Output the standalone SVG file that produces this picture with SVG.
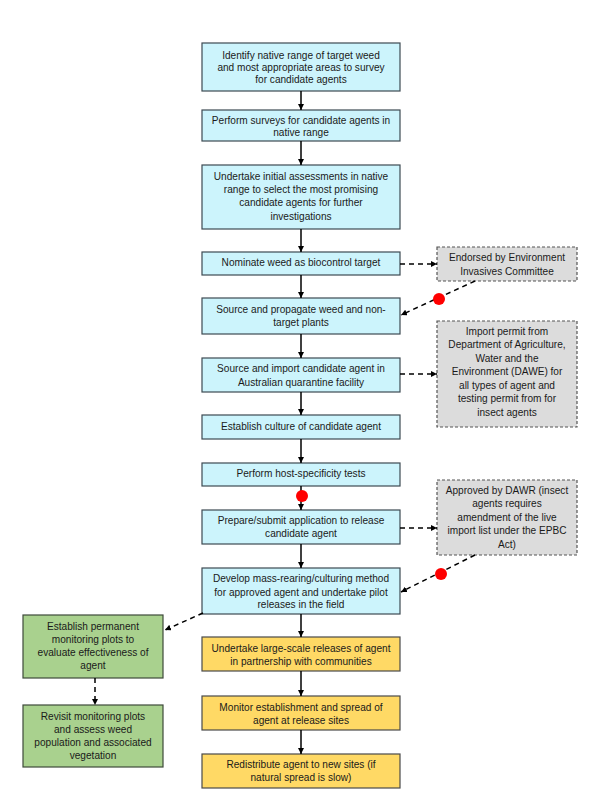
<svg xmlns="http://www.w3.org/2000/svg" width="602" height="802" viewBox="0 0 602 802">
<defs>
<marker id="ah" viewBox="0 0 10 10" refX="10" refY="5" markerWidth="4" markerHeight="4" orient="auto" markerUnits="strokeWidth">
<path d="M0,0 L10,5 L0,10 z" fill="#000"/>
</marker>
</defs>
<style>
.blue{fill:#CCF4FC;stroke:#3d4a52;stroke-width:1.2}
.yel{fill:#FFD965;stroke:#4a4a4a;stroke-width:1.2}
.grn{fill:#A9D18E;stroke:#3e4a3a;stroke-width:1.2}
.gry{fill:#DCDCDC;stroke:#555;stroke-width:1.2;stroke-dasharray:3 2}
text{font-family:"Liberation Sans",Arial,sans-serif;font-size:10.1px;fill:#1a1a1a;text-anchor:middle}
.sol{stroke:#000;stroke-width:1.5;fill:none;marker-end:url(#ah)}
.dsh{stroke:#000;stroke-width:1.5;fill:none;stroke-dasharray:5 4;marker-end:url(#ah)}
.dot{fill:#FF0000}
</style>
<rect width="602" height="802" fill="#fff"/>
<g id="n1"><rect class="blue" x="202" y="43" width="198" height="48"/>
<text x="301" y="59">Identify native range of target weed</text>
<text x="301" y="71">and most appropriate areas to survey</text>
<text x="301" y="83">for candidate agents</text></g>
<g id="n2"><rect class="blue" x="202" y="110" width="198" height="31"/>
<text x="301" y="123.5">Perform surveys for candidate agents in</text>
<text x="301" y="136">native range</text></g>
<g id="n3"><rect class="blue" x="202" y="165" width="198" height="64"/>
<text x="301" y="180">Undertake initial assessments in native</text>
<text x="301" y="193">range to select the most promising</text>
<text x="301" y="206">candidate agents for further</text>
<text x="301" y="219.5">investigations</text></g>
<g id="n4"><rect class="blue" x="202" y="252" width="198" height="23"/>
<text x="301" y="266">Nominate weed  as biocontrol target</text></g>
<g id="n5"><rect class="blue" x="202" y="298" width="198" height="36"/>
<text x="301" y="313">Source  and propagate weed  and non-</text>
<text x="301" y="326">target plants</text></g>
<g id="n6"><rect class="blue" x="202" y="358" width="198" height="34"/>
<text x="301" y="372">Source and import candidate agent  in</text>
<text x="301" y="385.5">Australian quarantine facility</text></g>
<g id="n7"><rect class="blue" x="202" y="415" width="198" height="24"/>
<text x="301" y="430">Establish culture of candidate agent</text></g>
<g id="n8"><rect class="blue" x="202" y="463" width="198" height="23"/>
<text x="301" y="477">Perform host-specificity tests</text></g>
<g id="n9"><rect class="blue" x="202" y="510" width="198" height="34"/>
<text x="301" y="524">Prepare/submit application to release</text>
<text x="301" y="537">candidate agent</text></g>
<g id="n10"><rect class="blue" x="202" y="568" width="198" height="46"/>
<text x="301" y="582">Develop mass-rearing/culturing method</text>
<text x="301" y="595.5">for approved agent and undertake pilot</text>
<text x="301" y="608">releases in the field</text></g>
<g id="n11"><rect class="yel" x="202" y="637" width="198" height="34"/>
<text x="301" y="651.5">Undertake  large-scale releases of agent</text>
<text x="301" y="664.5">in partnership with communities</text></g>
<g id="n12"><rect class="yel" x="202" y="696" width="198" height="34"/>
<text x="301" y="710.5">Monitor establishment and spread of</text>
<text x="301" y="723.5">agent  at release sites</text></g>
<g id="n13"><rect class="yel" x="202" y="754" width="198" height="34"/>
<text x="301" y="767.5">Redistribute agent to new sites (if</text>
<text x="301" y="780.5">natural spread is slow)</text></g>
<g id="g1"><rect class="grn" x="23" y="615" width="140" height="63"/>
<text x="93" y="629.5">Establish permanent</text>
<text x="93" y="642.5">monitoring plots to</text>
<text x="93" y="655.5">evaluate effectiveness  of</text>
<text x="93" y="669">agent</text></g>
<g id="g2"><rect class="grn" x="23" y="705" width="140" height="62"/>
<text x="93" y="719.5">Revisit monitoring plots</text>
<text x="93" y="732.5">and assess weed</text>
<text x="93" y="745.5">population and associated</text>
<text x="93" y="759">vegetation</text></g>
<g id="s1"><rect class="gry" x="437" y="247" width="140" height="34"/>
<text x="507" y="260.5">Endorsed by Environment</text>
<text x="507" y="274.5">Invasives Committee</text></g>
<g id="s2"><rect class="gry" x="437" y="321" width="140" height="106"/>
<text x="507" y="334.5">Import permit from</text>
<text x="507" y="348">Department  of Agriculture,</text>
<text x="507" y="361.5">Water and the</text>
<text x="507" y="375">Environment  (DAWE) for</text>
<text x="507" y="388.5">all types of agent and</text>
<text x="507" y="402">testing permit from for</text>
<text x="507" y="415.5">insect agents</text></g>
<g id="s3"><rect class="gry" x="437" y="480" width="140" height="75"/>
<text x="507" y="493.5">Approved by DAWR (insect</text>
<text x="507" y="507">agents requires</text>
<text x="507" y="520.5">amendment  of the  live</text>
<text x="507" y="534">import list under the EPBC</text>
<text x="507" y="547.5">Act)</text></g>
<g id="connectors">
<path class="sol" d="M301,91 V110"/>
<path class="sol" d="M301,141 V165"/>
<path class="sol" d="M301,229 V252"/>
<path class="sol" d="M301,275 V298"/>
<path class="sol" d="M301,334 V358"/>
<path class="sol" d="M301,392 V415"/>
<path class="sol" d="M301,439 V463"/>
<path class="sol" d="M301,486 V510"/>
<path class="sol" d="M301,544 V568"/>
<path class="sol" d="M301,614 V637"/>
<path class="sol" d="M301,671 V696"/>
<path class="sol" d="M301,730 V754"/>
<path class="dsh" d="M400,264 H437"/>
<path class="dsh" d="M475,281 L401,315"/>
<path class="dsh" d="M400,374 H437"/>
<path class="dsh" d="M400,528 H437"/>
<path class="dsh" d="M475,555 L401,592"/>
<path class="dsh" d="M203,613 L165,630"/>
<path class="dsh" d="M95,678 V705"/>
<circle class="dot" cx="302" cy="496" r="6"/>
<circle class="dot" cx="439" cy="299" r="6"/>
<circle class="dot" cx="441" cy="574" r="6"/>
</g>
</svg>
